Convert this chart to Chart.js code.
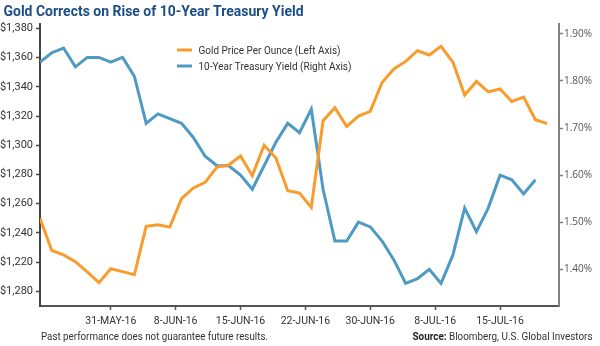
<!DOCTYPE html>
<html>
<head>
<meta charset="utf-8">
<script src="https://cdn.jsdelivr.net/npm/chart.js@4.4.1/dist/chart.umd.min.js"></script>
<style>
  html, body { margin: 0; padding: 0; background: #ffffff; }
  #wrap { position: relative; width: 600px; height: 346px; }
</style>
</head>
<body>
<div id="wrap"><canvas id="chart" width="600" height="346"></canvas></div>
<script>
// Daily gold price (USD/oz), one value per trading day
const goldPrice = [
  1250.0, 1228.0, 1225.0, 1220.3, 1213.3, 1206.0, 1215.5, 1213.5, 1211.4, 1244.5,
  1245.6, 1244.0, 1263.4, 1270.8, 1274.6, 1285.1, 1286.5, 1292.7, 1279.2, 1300.0,
  1291.3, 1268.9, 1267.3, 1257.5, 1316.8, 1325.7, 1312.9, 1320.0, 1323.2, 1343.0,
  1352.2, 1357.4, 1364.7, 1361.8, 1367.7, 1357.0, 1334.4, 1343.7, 1336.5, 1338.5,
  1330.0, 1333.0, 1317.5, 1314.8
];

// 10-year Treasury yield (%), same trading days (one day shorter)
const treasuryYield = [
  1.84, 1.86, 1.87, 1.83, 1.85, 1.85, 1.84, 1.85, 1.81, 1.71,
  1.73, 1.72, 1.71, 1.68, 1.64, 1.62, 1.62, 1.60, 1.57, 1.62,
  1.67, 1.71, 1.69, 1.74, 1.57, 1.46, 1.46, 1.50, 1.49, 1.46,
  1.42, 1.37, 1.38, 1.40, 1.37, 1.43, 1.53, 1.48, 1.53, 1.60,
  1.59, 1.56, 1.59
];

// Date labels and where they sit on the trading-day scale
const dateTickPos = [6, 11.5, 17, 22.5, 28, 33.5, 39];
const dateTickLabels = ['31-MAY-16', '8-JUN-16', '15-JUN-16', '22-JUN-16', '30-JUN-16', '8-JUL-16', '15-JUL-16'];

// Left axis (gold) ticks and their printed labels
const goldTickValues = [1200, 1220, 1240, 1260, 1280, 1300, 1320, 1340, 1360, 1380];
const goldTickLabels = ['$1,280', '$1,220', '$1,240', '$1,260', '$1,280', '$1,300', '$1,320', '$1,340', '$1,360', '$1,380'];

// Right axis (yield) ticks and labels
const yieldTickValues = [1.4, 1.5, 1.6, 1.7, 1.8, 1.9];
const yieldTickLabels = ['1.40%', '1.50%', '1.60%', '1.70%', '1.80%', '1.90%'];

const seriesNames = ['Gold Price Per Ounce (Left Axis)', '10-Year Treasury Yield (Right Axis)'];
const titleText = 'Gold Corrects on Rise of 10-Year Treasury Yield';
const noteText = 'Past performance does not guarantee future results.';
const sourceLead = 'Source:';
const sourceText = ' Bloomberg, U.S. Global Investors';

const ORANGE = '#F89C2E';
const BLUE = '#4E9AC2';
const NAVY = '#1B4D86';
const NARROW = '"Liberation Sans Narrow", "Roboto", sans-serif';

// Draw text squeezed/stretched horizontally to a given width
function fitText(ctx, text, x, y, font, color, width, align) {
  ctx.save();
  ctx.font = font;
  ctx.fillStyle = color;
  ctx.textBaseline = 'alphabetic';
  ctx.textAlign = 'left';
  const w = ctx.measureText(text).width;
  const s = width / w;
  const x0 = align === 'right' ? x - width : x;
  ctx.translate(x0, y);
  ctx.scale(s, 1);
  ctx.fillText(text, 0, 0);
  ctx.restore();
}

const annotations = {
  id: 'annotations',
  afterDraw(chart) {
    const ctx = chart.ctx;
    // title
    fitText(ctx, titleText, 3.5, 15.5, 'bold 15px ' + NARROW, NAVY, 300, 'left');

    // legend
    const colors = [ORANGE, BLUE];
    const rows = [50, 66];
    const widths = [142, 153];
    rows.forEach((y, i) => {
      ctx.save();
      ctx.strokeStyle = colors[i];
      ctx.lineWidth = 3;
      ctx.beginPath();
      ctx.moveTo(177, y);
      ctx.lineTo(192, y);
      ctx.stroke();
      ctx.restore();
      fitText(ctx, chart.data.datasets[i].label, 198.5, y + 4, '11.5px ' + NARROW, '#333333', widths[i], 'left');
    });

    // footer note
    fitText(ctx, noteText, 41, 340, '10.5px ' + NARROW, '#333333', 227, 'left');

    // source line: bold lead + regular text
    ctx.save();
    ctx.font = 'bold 10.5px ' + NARROW;
    const wLead = ctx.measureText(sourceLead).width;
    ctx.font = '10.5px ' + NARROW;
    const wRest = ctx.measureText(sourceText).width;
    const s = 180 / (wLead + wRest);
    ctx.translate(412.5, 340);
    ctx.scale(s, 1);
    ctx.fillStyle = '#222222';
    ctx.font = 'bold 10.5px ' + NARROW;
    ctx.fillText(sourceLead, 0, 0);
    ctx.fillStyle = '#333333';
    ctx.font = '10.5px ' + NARROW;
    ctx.fillText(sourceText, wLead, 0);
    ctx.restore();
  }
};

new Chart(document.getElementById('chart').getContext('2d'), {
  type: 'line',
  data: {
    datasets: [
      {
        label: seriesNames[0],
        data: goldPrice.map((v, i) => ({ x: i, y: v })),
        yAxisID: 'yGold',
        borderColor: ORANGE,
        borderWidth: 3,
        pointRadius: 0,
        tension: 0,
        fill: false
      },
      {
        label: seriesNames[1],
        data: treasuryYield.map((v, i) => ({ x: i, y: v })),
        yAxisID: 'yYield',
        borderColor: BLUE,
        borderWidth: 3,
        pointRadius: 0,
        tension: 0,
        fill: false
      }
    ]
  },
  options: {
    responsive: false,
    animation: false,
    devicePixelRatio: 1,
    layout: { padding: { top: 24, left: 0, right: 0, bottom: 0 } },
    plugins: { legend: { display: false }, tooltip: { enabled: false }, title: { display: false } },
    scales: {
      x: {
        type: 'linear',
        min: 0,
        max: 44,
        afterBuildTicks: s => { s.ticks = dateTickPos.map(v => ({ value: v })); },
        afterFit: s => { s.height = 40; },
        ticks: {
          autoSkip: false,
          maxRotation: 0,
          padding: 5,
          color: '#333333',
          font: { family: NARROW, size: 10.5 },
          callback: (v, i) => dateTickLabels[i]
        },
        grid: { drawOnChartArea: false, drawTicks: true, tickLength: 4, tickColor: '#555555', tickWidth: 1.5 },
        border: { display: true, color: '#555555', width: 2 }
      },
      yGold: {
        type: 'linear',
        position: 'left',
        min: 1190,
        max: 1383,
        afterBuildTicks: s => { s.ticks = goldTickValues.map(v => ({ value: v })); },
        afterFit: s => { s.width = 40; },
        ticks: {
          padding: 3,
          color: '#333333',
          font: { family: NARROW, size: 11 },
          callback: (v, i) => goldTickLabels[i]
        },
        grid: { drawOnChartArea: false, drawTicks: true, tickLength: 4, tickColor: '#444444', tickWidth: 1.5 },
        border: { display: true, color: '#444444', width: 2 }
      },
      yYield: {
        type: 'linear',
        position: 'right',
        min: 1.322,
        max: 1.921,
        afterBuildTicks: s => { s.ticks = yieldTickValues.map(v => ({ value: v })); },
        afterFit: s => { s.width = 41; },
        ticks: {
          padding: 1,
          color: '#555555',
          font: { family: '"Open Sans", sans-serif', size: 10 },
          callback: (v, i) => yieldTickLabels[i]
        },
        grid: { drawOnChartArea: false, drawTicks: true, tickLength: 4, tickColor: '#808080', tickWidth: 1.5 },
        border: { display: true, color: '#808080', width: 2 }
      }
    }
  },
  plugins: [annotations]
});
</script>
</body>
</html>
